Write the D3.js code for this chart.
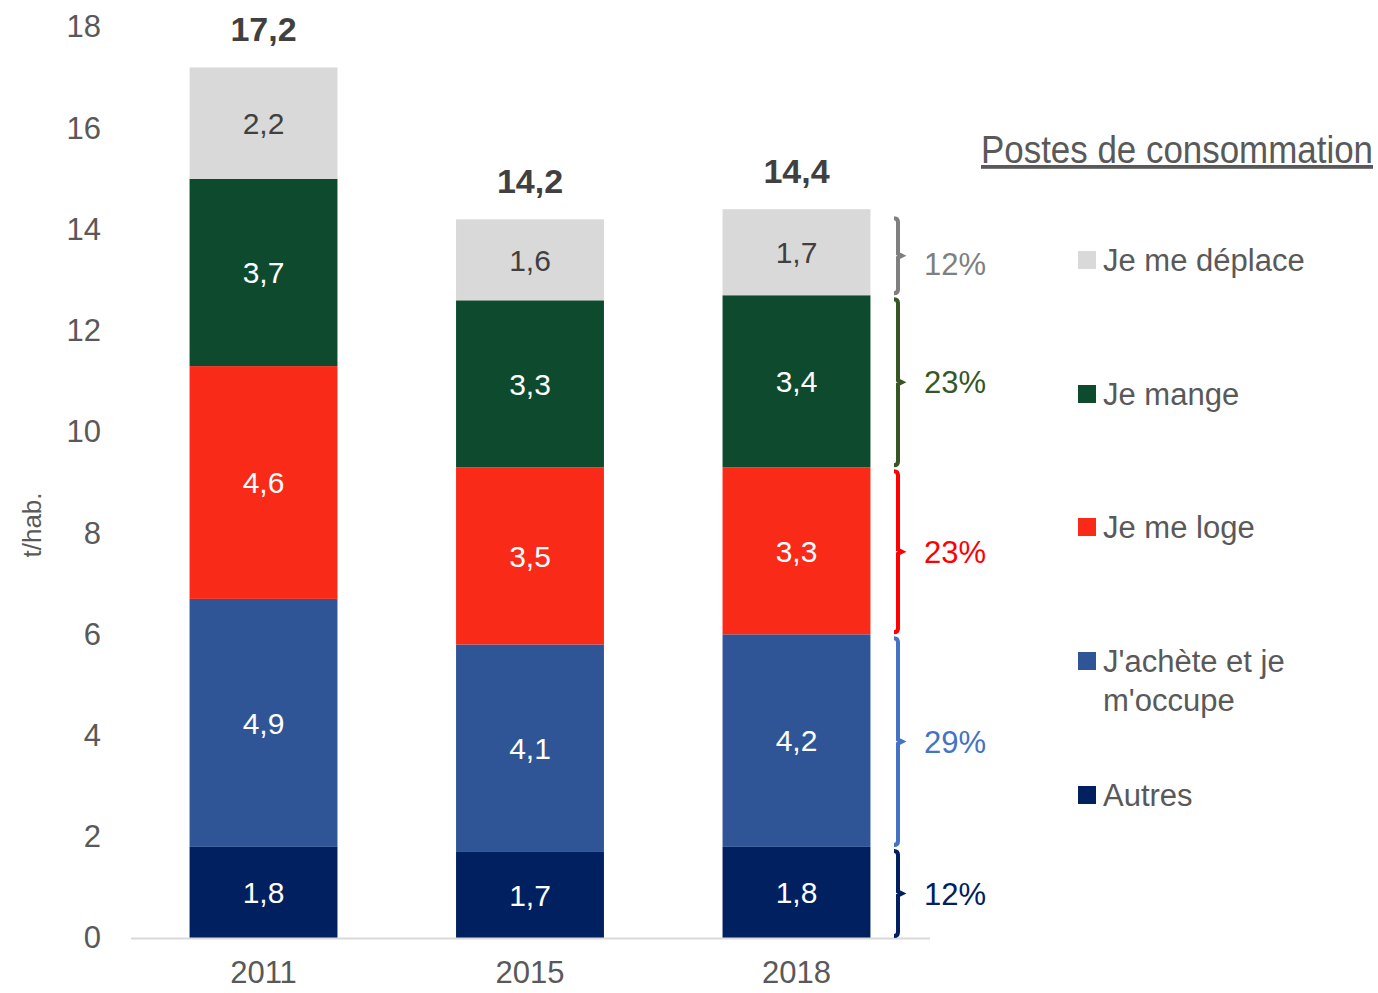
<!DOCTYPE html>
<html lang="fr">
<head>
    <meta charset="UTF-8">
    <title>Empreinte par poste de consommation</title>
    <script src="https://cdnjs.cloudflare.com/ajax/libs/d3/7.8.5/d3.min.js"></script>
    <style>
        body { margin: 0; background: #fff; }
        svg text { font-family: "Liberation Sans", Arial, sans-serif; }
    </style>
</head>
<body>
    <div id="wrapper"></div>
    <script>
        // données
        const years = ['2011', '2015', '2018']
        const postes = ['Autres', "J'achète et je m'occupe", 'Je me loge', 'Je mange', 'Je me déplace']
        const autres = [1.8, 1.7, 1.8]
        const achete = [4.9, 4.1, 4.2]
        const loge = [4.6, 3.5, 3.3]
        const mange = [3.7, 3.3, 3.4]
        const deplace = [2.2, 1.6, 1.7]
        const totals = [17.2, 14.2, 14.4]
        const parts2018 = ['12%', '29%', '23%', '23%', '12%']
        const yTicks = [0, 2, 4, 6, 8, 10, 12, 14, 16, 18]

        const series = [autres, achete, loge, mange, deplace]
        const fills = ['#002060', '#2f5597', '#fa2a18', '#0e4a2e', '#d9d9d9']
        const labelColors = ['#fff', '#fff', '#fff', '#fff', '#404040']
        const braceColors = ['#002060', '#4472c4', '#ff0000', '#375623', '#7f7f7f']

        const fmt = v => d3.format('.1f')(v).replace('.', ',')

        const width = 1378
        const height = 993

        const svg = d3.select('#wrapper').append('svg')
            .attr('width', width)
            .attr('height', height)

        const yScale = d3.scaleLinear()
            .domain([0, 18])
            .range([938, 27])

        const xScale = d3.scaleBand()
            .domain(years)
            .range([130, 930])
            .paddingInner(0.445)
            .paddingOuter(0.2235)

        // table empilée
        const table = years.map((y, i) => {
            const row = { year: y }
            postes.forEach((p, k) => row[p] = series[k][i])
            return row
        })
        const stacked = d3.stack().keys(postes)(table)

        // axe Y (sans ligne)
        const yAxis = svg.append('g')
            .attr('transform', 'translate(101,0)')
            .call(d3.axisLeft(yScale).tickValues(yTicks).tickSize(0).tickPadding(0))
        yAxis.select('.domain').remove()
        yAxis.selectAll('text')
            .attr('fill', '#595959')
            .style('font-size', '31px')
            .style('font-family', '"Liberation Sans", Arial, sans-serif')

        svg.append('text')
            .attr('transform', 'translate(41,525) rotate(-90)')
            .attr('text-anchor', 'middle')
            .attr('fill', '#595959')
            .style('font-size', '26px')
            .text('t/hab.')

        // barres
        stacked.forEach((layer, k) => {
            const g = svg.append('g')
            g.selectAll('rect')
                .data(layer)
                .enter().append('rect')
                    .attr('x', d => xScale(d.data.year))
                    .attr('y', d => yScale(d[1]))
                    .attr('width', xScale.bandwidth())
                    .attr('height', d => yScale(d[0]) - yScale(d[1]))
                    .attr('fill', fills[k])
            g.selectAll('text')
                .data(layer)
                .enter().append('text')
                    .attr('x', d => xScale(d.data.year) + xScale.bandwidth() / 2)
                    .attr('y', d => yScale((d[0] + d[1]) / 2))
                    .attr('dy', '0.36em')
                    .attr('text-anchor', 'middle')
                    .attr('fill', labelColors[k])
                    .style('font-size', '30px')
                    .text((d, i) => fmt(series[k][i]))
        })

        // totaux
        svg.append('g').selectAll('text')
            .data(years)
            .enter().append('text')
                .attr('x', d => xScale(d) + xScale.bandwidth() / 2)
                .attr('y', (d, i) => yScale(totals[i]) - 26)
                .attr('text-anchor', 'middle')
                .attr('fill', '#404040')
                .style('font-size', '34px')
                .style('font-weight', 'bold')
                .text((d, i) => fmt(totals[i]))

        // axe X
        svg.append('line')
            .attr('x1', 131).attr('x2', 930)
            .attr('y1', yScale(0) + 0.5).attr('y2', yScale(0) + 0.5)
            .attr('stroke', '#d9d9d9')
            .attr('stroke-width', 2)

        svg.append('g').selectAll('text')
            .data(years)
            .enter().append('text')
                .attr('x', d => xScale(d) + xScale.bandwidth() / 2)
                .attr('y', 983)
                .attr('text-anchor', 'middle')
                .attr('fill', '#595959')
                .style('font-size', '31px')
                .text(d => d)

        // accolades 2018
        const last = years.length - 1
        const bx = 898
        const braces = svg.append('g')
        stacked.forEach((layer, k) => {
            const d = layer[last]
            const ya = yScale(d[1]) + (k === postes.length - 1 ? 9 : 4)
            const yb = yScale(d[0]) - 2
            const ym = (ya + yb) / 2
            braces.append('path')
                .attr('d', `M${bx - 4},${ya} Q${bx},${ya} ${bx},${ya + 4} L${bx},${ym - 2} L${bx + 4},${ym} L${bx},${ym + 2} L${bx},${yb - 4} Q${bx},${yb} ${bx - 4},${yb}`)
                .attr('fill', 'none')
                .attr('stroke', braceColors[k])
                .attr('stroke-width', 4)
            braces.append('text')
                .attr('x', 955)
                .attr('y', ym + (k === postes.length - 1 ? 8 : 0))
                .attr('dy', '0.36em')
                .attr('text-anchor', 'middle')
                .attr('fill', braceColors[k])
                .style('font-size', '31px')
                .text(parts2018[k])
        })

        // légende
        svg.append('text')
            .attr('x', 981)
            .attr('y', 163)
            .attr('textLength', 392)
            .attr('lengthAdjust', 'spacingAndGlyphs')
            .attr('fill', '#595959')
            .style('font-size', '38px')
            .style('text-decoration', 'underline')
            .text('Postes de consommation')

        const legendItems = [
            { k: 4, y: 260, lines: ['Je me déplace'] },
            { k: 3, y: 394, lines: ['Je mange'] },
            { k: 2, y: 527, lines: ['Je me loge'] },
            { k: 1, y: 661, lines: ["J'achète et je", "m'occupe"] },
            { k: 0, y: 795, lines: ['Autres'] }
        ]
        const legend = svg.append('g')
        legendItems.forEach(item => {
            legend.append('rect')
                .attr('x', 1078)
                .attr('y', item.y - 9)
                .attr('width', 18)
                .attr('height', 18)
                .attr('fill', fills[item.k])
            const t = legend.append('text')
                .attr('x', 1103)
                .attr('y', item.y)
                .attr('fill', '#595959')
                .style('font-size', '31px')
            item.lines.forEach((l, j) => {
                t.append('tspan')
                    .attr('x', 1103)
                    .attr('dy', j === 0 ? '0.36em' : '1.26em')
                    .text(l)
            })
        })
    </script>
</body>
</html>
